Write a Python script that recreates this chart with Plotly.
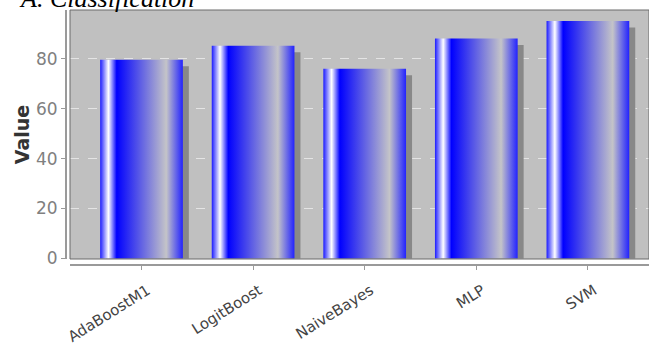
import plotly.graph_objects as go

# ---- data ----
categories = ["AdaBoostM1", "LogitBoost", "NaiveBayes", "MLP", "SVM"]
values = [79.7, 85.3, 76.0, 88.2, 95.2]
y_ticks = [0, 20, 40, 60, 80]
title_text = "A. Classification"

# ---- layout constants (pixels) ----
W, H = 649, 345
plot_left, plot_right, plot_top, plot_bottom = 70, 649, 10, 259
axis_x, axis_y = 66, 265          # offset axis lines

x_range = [-0.6407, 4.5475]
y_range = [-0.25, 99.6]
bar_w = 0.741
px_per_x = (plot_right - plot_left) / (x_range[1] - x_range[0])
px_per_y = (plot_bottom - plot_top) / (y_range[1] - y_range[0])
shadow_dx = 6 / px_per_x
shadow_dy = 6.5 / px_per_y

grad = [[0.0, "#1a1aff"], [0.1, "#ffffff"], [0.2, "#0000ff"],
        [0.8, "#c4c4c8"], [1.0, "#2222ff"]]

fig = go.Figure()
# shadows
for i, v in enumerate(values):
    x0 = i - bar_w / 2 + shadow_dx
    x1 = i + bar_w / 2 + shadow_dx
    t = v - shadow_dy
    fig.add_trace(go.Scatter(
        x=[x0, x1, x1, x0, x0], y=[0, 0, t, t, 0],
        mode="lines", fill="toself", fillcolor="#888888",
        line=dict(width=0), hoverinfo="skip", showlegend=False))
# bars
for i, v in enumerate(values):
    x0 = i - bar_w / 2
    x1 = i + bar_w / 2
    fig.add_trace(go.Scatter(
        x=[x0, x1, x1, x0, x0], y=[0, 0, v, v, 0],
        mode="lines", fill="toself",
        fillgradient=dict(type="horizontal", colorscale=grad),
        line=dict(width=0), name=categories[i], showlegend=False))

paper_w = W - axis_x
paper_h = axis_y - plot_top

title_left_px, title_mid_px = 17, -1.5

fig.update_layout(
    width=W, height=H,
    margin=dict(l=axis_x, r=W - plot_right, t=plot_top, b=H - axis_y, pad=0,
                autoexpand=False),
    paper_bgcolor="white",
    plot_bgcolor="#c0c0c0",
    xaxis=dict(
        domain=[(plot_left - axis_x) / paper_w, 1],
        range=x_range, tickvals=list(range(len(categories))), ticktext=categories,
        anchor="free", position=0, automargin=False,
        showline=True, linecolor="#9a9a9a", linewidth=2,
        ticks="outside", ticklen=4, tickcolor="#9a9a9a",
        tickangle=-32, ticklabelstandoff=6, ticklabelshift=6,
        tickfont=dict(family="DejaVu Sans", size=15, color="#444444"),
        showgrid=False, zeroline=False),
    yaxis=dict(
        domain=[(axis_y - plot_bottom) / paper_h, 1],
        range=y_range, tickvals=y_ticks,
        anchor="free", position=0, automargin=False,
        showline=True, linecolor="#9a9a9a", linewidth=2,
        ticks="outside", ticklen=4, tickcolor="#9a9a9a",
        tickfont=dict(family="DejaVu Sans", size=17, color="#808080"),
        showgrid=True, gridcolor="#e4e4e4", griddash="dash", gridwidth=1,
        zeroline=False,
        title=dict(text="Value", standoff=0,
                   font=dict(family="DejaVu Sans", size=19, weight="bold", color="#333333"))),
    shapes=[dict(type="rect", xref="x domain", yref="y domain",
                 x0=0, x1=1, y0=0, y1=1, line=dict(color="#6a6a6a", width=1),
                 layer="above")],
    annotations=[dict(text=title_text, showarrow=False,
                      xref="paper", yref="paper",
                      x=(title_left_px - axis_x) / paper_w, xanchor="left",
                      y=(axis_y - title_mid_px) / paper_h, yanchor="middle",
                      font=dict(family="Liberation Serif", size=26, style="italic",
                                color="black"))],
)

fig.write_html("out.html",
               config={"displayModeBar": False},
               post_script="document.body.style.margin='0';document.body.style.overflow='hidden';")
